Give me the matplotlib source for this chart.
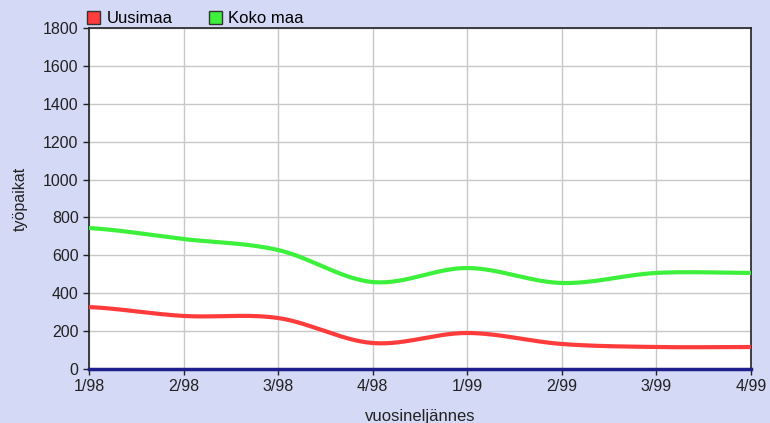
import numpy as np
import matplotlib.pyplot as plt
from matplotlib.patches import Patch

plt.rcParams['font.family'] = ['Liberation Sans', 'DejaVu Sans']

# data
quarters = ['1/98', '2/98', '3/98', '4/98', '1/99', '2/99', '3/99', '4/99']
uusimaa = [327, 280, 269, 137, 190, 132, 116, 116]
koko_maa = [744, 686, 628, 459, 533, 454, 507, 507]
baseline = [0, 0, 0, 0, 0, 0, 0, 0]


def smooth(y, n=30):
    # catmull-rom through the points
    y = np.asarray(y, dtype=float)
    p = np.concatenate([[y[0]], y, [y[-1]]])
    xs, ys = [], []
    for i in range(len(y) - 1):
        t = np.linspace(0, 1, n, endpoint=False)
        p0, p1, p2, p3 = p[i], p[i + 1], p[i + 2], p[i + 3]
        seg = 0.5 * (2 * p1 + (-p0 + p2) * t + (2 * p0 - 5 * p1 + 4 * p2 - p3) * t ** 2
                     + (-p0 + 3 * p1 - 3 * p2 + p3) * t ** 3)
        xs.append(i + t)
        ys.append(seg)
    xs.append([len(y) - 1])
    ys.append([y[-1]])
    return np.concatenate(xs), np.concatenate(ys)


bg = '#D4D9F6'
fs = 11.5
fig = plt.figure(figsize=(7.7, 4.23), dpi=100, facecolor=bg)
ax = fig.add_axes([0.1156, 0.1277, 0.8597, 0.8061])
ax.set_facecolor('white')

x = np.arange(len(quarters))
sx, sy = smooth(uusimaa)
ax.plot(sx, sy, color='#FF3B3B', lw=3, solid_capstyle='round', zorder=3)
sx, sy = smooth(koko_maa)
ax.plot(sx, sy, color='#3CF03C', lw=3, solid_capstyle='round', zorder=3)
ax.plot(x, baseline, color='#1E1E8C', lw=2.5, zorder=4, clip_on=False)

ax.set_xlim(0, len(quarters) - 1)
ax.set_ylim(0, 1800)
ax.set_xticks(x)
ax.set_xticklabels(quarters)
ax.set_yticks(np.arange(0, 1801, 200))
ax.grid(True, color='#C8C8C8', lw=1)
ax.set_axisbelow(True)
ax.tick_params(direction='out', length=4.5, width=1, colors='#222222', labelsize=fs, pad=3)
ax.spines['bottom'].set_visible(False)
for s in ['left', 'right', 'top']:
    ax.spines[s].set_color('#222222')
    ax.spines[s].set_linewidth(1.2)

ax.set_ylabel('työpaikat', fontsize=fs, color='#222222')
ax.yaxis.set_label_coords(-0.093, 0.5)
ax.set_xlabel('vuosineljännes', fontsize=12, color='#222222')
ax.xaxis.set_label_coords(0.5, -0.118)

handles = [Patch(facecolor='#FF3B3B', edgecolor='#333333', label='Uusimaa'),
           Patch(facecolor='#3CF03C', edgecolor='#333333', label='Koko maa')]
ax.legend(handles=handles, loc='lower left', bbox_to_anchor=(-0.005, 1.0), ncol=2,
          frameon=False, fontsize=12, handlelength=0.75, handleheight=0.75,
          handletextpad=0.4, columnspacing=2.2, borderaxespad=0, borderpad=0.1)

fig.savefig('out.png', dpi=100, facecolor=bg)
